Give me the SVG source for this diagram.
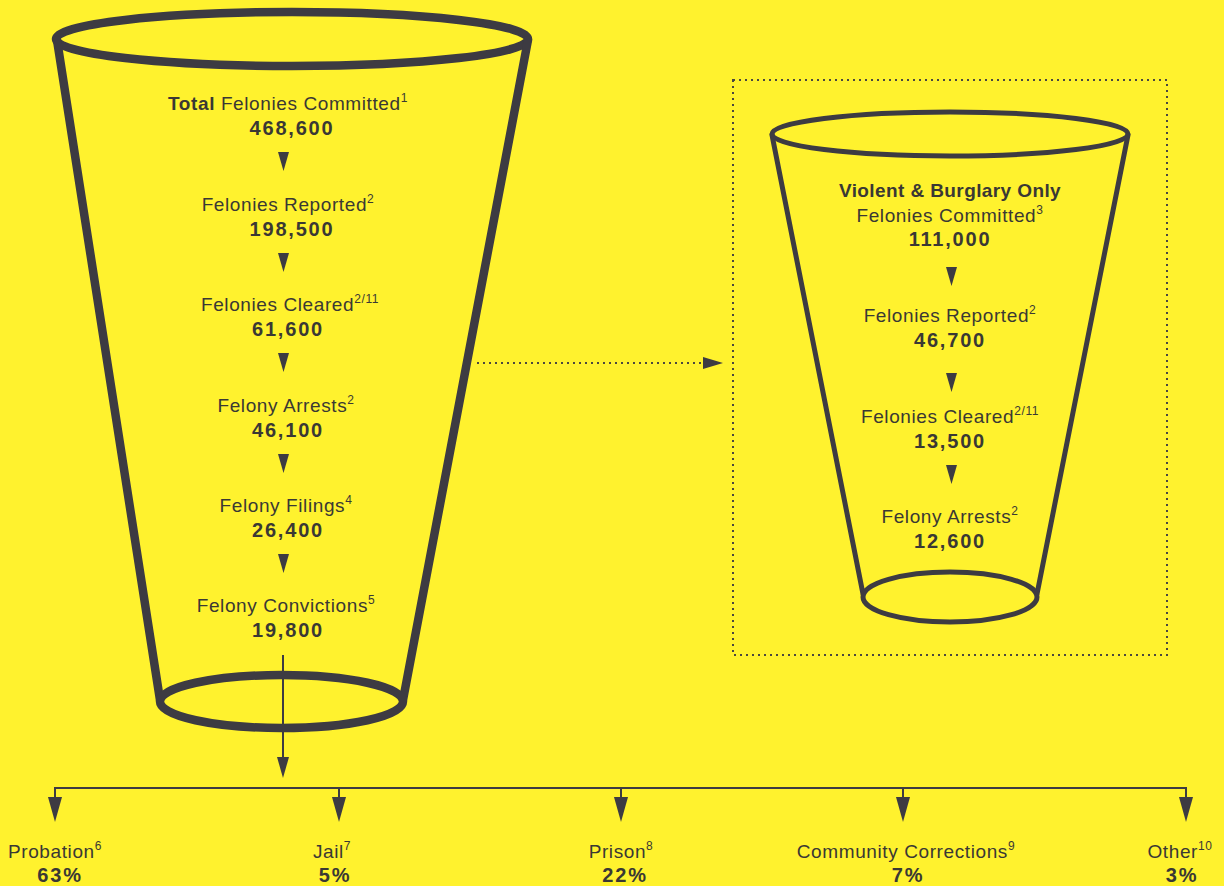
<svg xmlns="http://www.w3.org/2000/svg" width="1224" height="886" viewBox="0 0 1224 886">
<style>
.t{font-family:"Liberation Sans",Arial,Helvetica,sans-serif;fill:#3a3834;text-anchor:middle}
.l{font-size:19px;letter-spacing:0.6px}
.n{font-size:20px;font-weight:bold;letter-spacing:1.8px}
.b{font-weight:bold}
.s{font-size:12px}
.big{fill:none;stroke:#3d3b42;stroke-width:8.5;stroke-linejoin:round;stroke-linecap:round}
.sm{fill:none;stroke:#3d3b42;stroke-width:5;stroke-linejoin:round;stroke-linecap:round}
.tri{fill:#3d3b42}
.ln{stroke:#3d3b42;stroke-width:2;fill:none}
.dot{stroke:#4a4740;stroke-width:2;fill:none;stroke-dasharray:2 4}
</style>
<rect width="1224" height="886" fill="#fff22e"/>

<g id="big-funnel">
<ellipse class="big" cx="292" cy="39" rx="236" ry="27"/>
<line class="big" x1="57" y1="40" x2="160" y2="700"/>
<line class="big" x1="528" y1="40" x2="403" y2="700"/>
<ellipse class="big" cx="281.5" cy="701.5" rx="121.5" ry="26.5"/>
<text class="t l" x="288" y="110"><tspan class="b">Total</tspan> Felonies Committed<tspan class="s" dy="-8">1</tspan></text>
<text class="t n" x="292" y="135">468,600</text>
<polygon class="tri" points="278,152 289,152 283.5,171"/>
<text class="t l" x="288" y="211">Felonies Reported<tspan class="s" dy="-8">2</tspan></text>
<text class="t n" x="292" y="236">198,500</text>
<polygon class="tri" points="278,253 289,253 283.5,272"/>
<text class="t l" x="290" y="311">Felonies Cleared<tspan class="s" dy="-8">2/11</tspan></text>
<text class="t n" x="288" y="336">61,600</text>
<polygon class="tri" points="278,353 289,353 283.5,372"/>
<text class="t l" x="286" y="412">Felony Arrests<tspan class="s" dy="-8">2</tspan></text>
<text class="t n" x="288" y="437">46,100</text>
<polygon class="tri" points="278,454 289,454 283.5,473"/>
<text class="t l" x="286" y="512">Felony Filings<tspan class="s" dy="-8">4</tspan></text>
<text class="t n" x="288" y="537">26,400</text>
<polygon class="tri" points="278,554 289,554 283.5,573"/>
<text class="t l" x="286" y="612">Felony Convictions<tspan class="s" dy="-8">5</tspan></text>
<text class="t n" x="288" y="637">19,800</text>
</g>

<g id="violent-burglary-box">
<rect class="dot" x="733" y="80" width="434" height="575"/>
</g>

<g id="small-funnel">
<ellipse class="sm" cx="950" cy="134" rx="178" ry="22"/>
<line class="sm" x1="772" y1="135" x2="863" y2="594"/>
<line class="sm" x1="1128" y1="135" x2="1037" y2="594"/>
<ellipse class="sm" cx="950" cy="597" rx="87" ry="25"/>
<text class="t l b" x="950" y="197" style="letter-spacing:0.4px">Violent &amp; Burglary Only</text>
<text class="t l" x="950" y="222">Felonies Committed<tspan class="s" dy="-8">3</tspan></text>
<text class="t n" x="950" y="246">111,000</text>
<polygon class="tri" points="946,267 957,267 951.5,286"/>
<text class="t l" x="950" y="322">Felonies Reported<tspan class="s" dy="-8">2</tspan></text>
<text class="t n" x="950" y="347">46,700</text>
<polygon class="tri" points="946,373 957,373 951.5,392"/>
<text class="t l" x="950" y="423">Felonies Cleared<tspan class="s" dy="-8">2/11</tspan></text>
<text class="t n" x="950" y="448">13,500</text>
<polygon class="tri" points="946,465 957,465 951.5,484"/>
<text class="t l" x="950" y="523">Felony Arrests<tspan class="s" dy="-8">2</tspan></text>
<text class="t n" x="950" y="548">12,600</text>
</g>

<g id="connectors">
<line class="dot" x1="477" y1="363" x2="703" y2="363"/>
<polygon class="tri" points="703,357 723,363 703,369"/>
<line class="ln" x1="283" y1="655" x2="283" y2="760"/>
<polygon class="tri" points="277,757 289,757 283,778"/>
<line class="ln" x1="55" y1="788" x2="1186" y2="788"/>
<line class="ln" x1="55" y1="787" x2="55" y2="800"/>
<polygon class="tri" points="48,797 62,797 55,822"/>
<line class="ln" x1="339" y1="788" x2="339" y2="800"/>
<polygon class="tri" points="332,797 346,797 339,822"/>
<line class="ln" x1="621" y1="788" x2="621" y2="800"/>
<polygon class="tri" points="614,797 628,797 621,822"/>
<line class="ln" x1="903" y1="788" x2="903" y2="800"/>
<polygon class="tri" points="896,797 910,797 903,822"/>
<line class="ln" x1="1186" y1="787" x2="1186" y2="800"/>
<polygon class="tri" points="1179,797 1193,797 1186,822"/>
</g>

<g id="outcome-probation">
<text class="t l" x="55" y="858">Probation<tspan class="s" dy="-8">6</tspan></text>
<text class="t n" x="60" y="882">63%</text>
</g>
<g id="outcome-jail">
<text class="t l" x="332" y="858">Jail<tspan class="s" dy="-8">7</tspan></text>
<text class="t n" x="335" y="882">5%</text>
</g>
<g id="outcome-prison">
<text class="t l" x="621" y="858">Prison<tspan class="s" dy="-8">8</tspan></text>
<text class="t n" x="625" y="882">22%</text>
</g>
<g id="outcome-community">
<text class="t l" x="906" y="858">Community Corrections<tspan class="s" dy="-8">9</tspan></text>
<text class="t n" x="908" y="882">7%</text>
</g>
<g id="outcome-other">
<text class="t l" x="1180" y="858">Other<tspan class="s" dy="-8">10</tspan></text>
<text class="t n" x="1182" y="882">3%</text>
</g>
</svg>
